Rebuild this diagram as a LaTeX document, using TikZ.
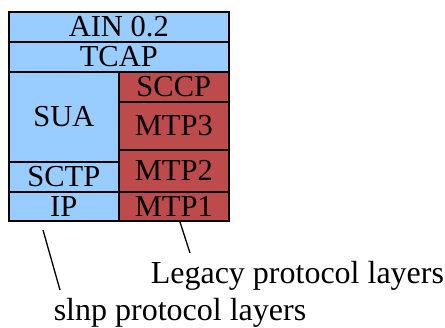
\documentclass[tikz,border=0pt]{standalone}
\usepackage{fontspec}
\setmainfont{Liberation Serif}
\begin{document}
\begin{tikzpicture}[x=1pt,y=-1pt,line width=1.6pt,
  layer/.style={rectangle,draw=black,anchor=north west,inner sep=0pt,
    font=\fontsize{30.5}{32}\selectfont},
  blue layer/.style={layer,fill={rgb,255:red,153;green,204;blue,255}},
  red layer/.style={layer,fill={rgb,255:red,190;green,75;blue,75}},
  label/.style={anchor=base west,inner sep=0pt,font=\fontsize{32}{34}\selectfont}]
  \useasboundingbox (0,0) rectangle (445,328);
  \node[blue layer, minimum width=220pt, minimum height=30pt] (ain) at (8,11) {AIN 0.2};
  \node[blue layer, minimum width=220pt, minimum height=30pt] (tcap) at (8,41) {TCAP};
  \node[blue layer, minimum width=110pt, minimum height=90pt] (sua) at (8,71) {SUA};
  \node[blue layer, minimum width=110pt, minimum height=30pt] (sctp) at (8,161) {SCTP};
  \node[blue layer, minimum width=110pt, minimum height=29pt] (ip) at (8,191) {IP};
  \node[red layer, minimum width=110pt, minimum height=30pt] (sccp) at (118,71) {SCCP};
  \node[red layer, minimum width=110pt, minimum height=48pt] (mtp3) at (118,101) {MTP3};
  \node[red layer, minimum width=110pt, minimum height=42pt] (mtp2) at (118,149) {MTP2};
  \node[red layer, minimum width=110pt, minimum height=29pt] (mtp1) at (118,191) {MTP1};
  \node[label] (legacy) at (150,284) {Legacy protocol layers};
  \node[label] (slnp) at (53,321) {slnp protocol layers};
  \coordinate (legacy tip) at (180,222);
  \coordinate (legacy end) at (190,253);
  \coordinate (slnp tip) at (43,230);
  \coordinate (slnp end) at (60,290);
  \draw[line width=1.3pt] (legacy tip) -- (legacy end);
  \draw[line width=1.3pt] (slnp tip) -- (slnp end);
\end{tikzpicture}
\end{document}
